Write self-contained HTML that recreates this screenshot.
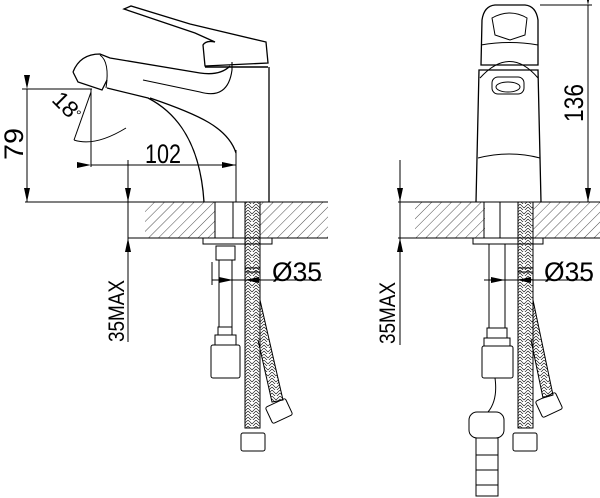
<!DOCTYPE html>
<html><head><meta charset="utf-8"><style>
html,body{margin:0;padding:0;background:#fff}
svg{display:block}
text{font-family:"Liberation Sans",sans-serif;fill:#000}
</style></head><body>
<svg width="600" height="498" viewBox="0 0 600 498" xmlns="http://www.w3.org/2000/svg">
<defs>
<pattern id="h" patternUnits="userSpaceOnUse" width="7" height="7" patternTransform="rotate(45)">
<line x1="0" y1="0" x2="0" y2="7" stroke="#000" stroke-width="0.7"/>
</pattern>
<pattern id="br" patternUnits="userSpaceOnUse" width="8" height="6">
<path d="M0,0 L4,4 L8,0 M0,3 L4,7 L8,3" stroke="#000" stroke-width="0.6" fill="none"/>
</pattern>
<marker id="a" markerWidth="14" markerHeight="6" refX="14" refY="3" orient="auto" markerUnits="userSpaceOnUse">
<path d="M0,0 L14,3 L0,6 Z" fill="#000"/>
</marker>
</defs>
<g stroke="#000" stroke-width="1" fill="none">
<!-- LEFT VIEW -->
<rect x="145" y="202" width="70" height="36" fill="url(#h)" stroke="none"/>
<rect x="260" y="202" width="68" height="36" fill="url(#h)" stroke="none"/>
<line x1="25" y1="202" x2="328" y2="202"/>
<line x1="128" y1="238" x2="328" y2="238"/>
<path d="M124,9 L131,6 L190,24 L266,42 L268,63 L205,66 L203,45 Q206,40 215,42 L195,33 Z" stroke-width="1.3"/>
<line x1="205" y1="67" x2="268" y2="67" stroke-width="1.5"/>
<line x1="269" y1="67" x2="269" y2="202" stroke-width="1.3"/>
<path d="M73,72 Q80,54 100,54 L110,58 L200,73 Q220,76 230,66" stroke-width="1.3"/>
<path d="M73,72 L78,82 L102,90 L107,80" stroke-width="1.3"/>
<path d="M100,55 Q110,62 106,88" stroke-width="1"/>
<path d="M107,88 L148,98 C175,112 200,140 204,202" stroke-width="1.3"/>
<path d="M150,98 C200,115 228,128 236,153" stroke-width="1.3"/>
<path d="M143,80 L200,92 Q228,100 232,70 L232,62" stroke-width="1.1"/>
<line x1="22" y1="89" x2="92" y2="89"/>
<line x1="27" y1="89" x2="27" y2="202" marker-start="url(#a)" marker-end="url(#a)"/>
<line x1="91" y1="89" x2="91" y2="167"/>
<line x1="91" y1="92" x2="74" y2="140"/>
<path d="M74,140 Q95,147 126,128"/>
<line x1="91" y1="165" x2="236" y2="165" marker-start="url(#a)" marker-end="url(#a)"/>
<line x1="236" y1="150" x2="236" y2="202"/>
<line x1="128" y1="160" x2="128" y2="202" marker-end="url(#a)"/>
<line x1="128" y1="280" x2="128" y2="238" marker-end="url(#a)"/>
<line x1="128" y1="202" x2="128" y2="238"/>
<line x1="128" y1="280" x2="128" y2="342"/>
<line x1="215" y1="202" x2="215" y2="238"/><line x1="233" y1="202" x2="233" y2="238"/>
<rect x="203" y="238" width="69" height="6"/>
<rect x="216" y="246" width="19" height="14"/>
<line x1="219" y1="260" x2="219" y2="327"/><line x1="232" y1="260" x2="232" y2="327"/>
<rect x="218" y="327" width="14" height="8"/>
<rect x="215" y="335" width="21" height="10"/>
<rect x="211" y="345" width="29" height="33" rx="2"/>
<rect x="245" y="202" width="15" height="70" fill="url(#br)"/>
<rect x="245" y="268" width="15" height="160" fill="url(#br)"/>
<path d="M260,300 L283,400 L272,402 L258,340" fill="url(#br)"/>
<rect x="241" y="433" width="24" height="18" rx="2"/>
<rect x="268" y="402" width="22" height="18" rx="2" transform="rotate(-25 279 411)"/>
<line x1="212" y1="280" x2="322" y2="280"/>
<line x1="212" y1="262" x2="212" y2="285"/>
<line x1="212" y1="280" x2="233" y2="280" marker-end="url(#a)"/>
<line x1="265" y1="280" x2="245" y2="280" marker-end="url(#a)"/>
<!-- RIGHT VIEW -->
<rect x="415" y="202" width="70" height="36" fill="url(#h)" stroke="none"/>
<rect x="533" y="202" width="67" height="36" fill="url(#h)" stroke="none"/>
<line x1="398" y1="202" x2="600" y2="202"/>
<line x1="398" y1="238" x2="600" y2="238"/>
<path d="M476,202 L479,70 L538,70 L541,202" stroke-width="1.3"/>
<path d="M481,65 L482,20 Q484,6 495,5 L525,5 Q536,6 538,20 L538,65 Z" stroke-width="1.3"/>
<path d="M492,18 Q510,8 527,18 L525,35 L510,40 L495,35 Z"/>
<path d="M481,45 Q510,40 538,45"/>
<path d="M480,78 Q510,45 538,78"/>
<rect x="492" y="77" width="32" height="17" rx="6"/>
<ellipse cx="508" cy="87" rx="12" ry="5"/>
<path d="M478,158 Q510,150 540,158"/>
<line x1="540" y1="5" x2="592" y2="5"/>
<line x1="588" y1="5" x2="588" y2="202" marker-start="url(#a)" marker-end="url(#a)"/>
<line x1="400" y1="160" x2="400" y2="202" marker-end="url(#a)"/>
<line x1="400" y1="280" x2="400" y2="238" marker-end="url(#a)"/>
<line x1="400" y1="202" x2="400" y2="238"/>
<line x1="400" y1="280" x2="400" y2="345"/>
<line x1="484" y1="202" x2="484" y2="238"/><line x1="500" y1="202" x2="500" y2="238"/>
<rect x="473" y="238" width="70" height="6"/>
<line x1="489" y1="244" x2="489" y2="328"/><line x1="505" y1="244" x2="505" y2="328"/>
<rect x="487" y="328" width="20" height="10"/>
<rect x="484" y="338" width="26" height="8"/>
<rect x="482" y="346" width="31" height="32" rx="2"/>
<path d="M495,378 Q498,400 488,412"/>
<rect x="469" y="412" width="35" height="26" rx="8"/>
<rect x="476" y="438" width="22" height="58"/>
<line x1="476" y1="455" x2="498" y2="455"/><line x1="476" y1="470" x2="498" y2="470"/><line x1="476" y1="485" x2="498" y2="485"/>
<rect x="518" y="202" width="15" height="70" fill="url(#br)"/>
<rect x="518" y="268" width="15" height="160" fill="url(#br)"/>
<path d="M533,300 L553,395 L543,398 L531,340" fill="url(#br)"/>
<rect x="513" y="433" width="24" height="18" rx="2"/>
<rect x="538" y="396" width="22" height="18" rx="2" transform="rotate(-25 549 405)"/>
<line x1="484" y1="280" x2="592" y2="280"/>
<line x1="484" y1="280" x2="505" y2="280" marker-end="url(#a)"/>
<line x1="535" y1="280" x2="517" y2="280" marker-end="url(#a)"/>
</g>
<g font-size="27">
<text x="16" y="144" text-anchor="middle" transform="rotate(-90 16 144)" dominant-baseline="middle" textLength="32" lengthAdjust="spacingAndGlyphs">79</text>
<text x="60" y="110" text-anchor="middle" transform="rotate(45 60 110)" font-size="23" textLength="26" lengthAdjust="spacingAndGlyphs">18</text>
<text x="76" y="120" font-size="14">°</text>
<text x="163" y="163" text-anchor="middle" textLength="36" lengthAdjust="spacingAndGlyphs">102</text>
<text x="118" y="311" text-anchor="middle" transform="rotate(-90 118 311)" dominant-baseline="middle" font-size="22" textLength="62" lengthAdjust="spacingAndGlyphs">35MAX</text>
<text x="297" y="281" text-anchor="middle" textLength="50" lengthAdjust="spacingAndGlyphs">Ø35</text>
<text x="389" y="313" text-anchor="middle" transform="rotate(-90 389 313)" dominant-baseline="middle" font-size="22" textLength="62" lengthAdjust="spacingAndGlyphs">35MAX</text>
<text x="576" y="103" text-anchor="middle" transform="rotate(-90 576 103)" dominant-baseline="middle" textLength="38" lengthAdjust="spacingAndGlyphs">136</text>
<text x="569" y="281" text-anchor="middle" textLength="50" lengthAdjust="spacingAndGlyphs">Ø35</text>
</g>
</svg>
</body></html>
